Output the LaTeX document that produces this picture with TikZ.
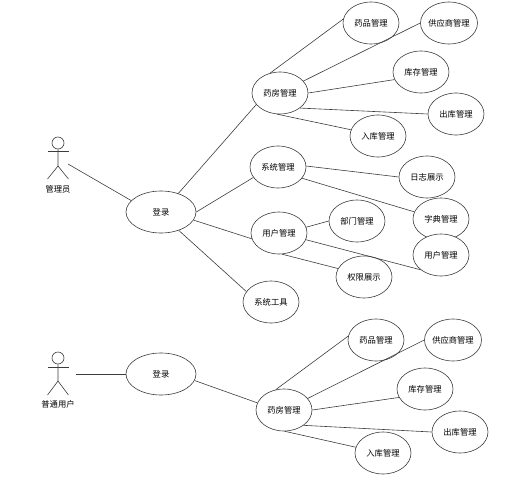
\documentclass[tikz,border=0pt]{standalone}
\usepackage{fontspec}
\setmainfont{Noto Sans CJK SC}
\usetikzlibrary{
	shapes.geometric
}
\definecolor{LineGray}{RGB}{60,60,60}
\tikzset{
	usecase/.style={ellipse, draw=LineGray, fill=white, line width=0.6pt, inner sep=0pt, minimum width=56pt, minimum height=42pt, font=\fontsize{8.3}{10}\selectfont},
	login/.style={usecase, minimum width=70pt},
	wide/.style={usecase, inner sep=-1pt, minimum width=57pt},
	link/.style={LineGray, line width=0.6pt},
	actorname/.style={inner sep=0pt, font=\fontsize{8.3}{10}\selectfont}
}

\begin{document}
\begin{tikzpicture}[x=1pt, y=-1pt]
		\useasboundingbox (0,0) rectangle (531,477);
		% 管理员
		\begin{scope}[shift={(58,143)}]
			\node[circle, draw=LineGray, line width=0.6pt, inner sep=0pt, minimum size=12pt] (adminhead) at (0,0) {};
			\draw[link] (adminhead.south) -- (0,23) -- (-10.5,36);
			\draw[link] (0,23) -- (10.5,36);
			\draw[link] (-10.5,8) -- (10.5,8);
			\node[actorname] (admin) at (0,46) {管理员};
			\coordinate (adminend) at (10,21);
		\end{scope}
		% 管理员用例
		\node[login] (login) at (161,212) {登录};
		\node[usecase] (yaofang) at (280,93) {药房管理};
		\node[usecase] (yaopin) at (371,23) {药品管理};
		\node[wide] (gongying) at (449,23) {供应商管理};
		\node[usecase] (kucun) at (421,72) {库存管理};
		\node[usecase] (chuku) at (456,114) {出库管理};
		\node[usecase] (ruku) at (378,136) {入库管理};
		\node[usecase] (xitong) at (278,167) {系统管理};
		\node[usecase] (rizhi) at (427,177) {日志展示};
		\node[usecase] (zidian) at (441,219) {字典管理};
		\node[usecase] (yonghuitem) at (441,255) {用户管理};
		\node[usecase] (bumen) at (357,221) {部门管理};
		\node[usecase] (yonghu) at (279,233) {用户管理};
		\node[usecase] (quanxian) at (364,277) {权限展示};
		\node[usecase] (gongju) at (271,302) {系统工具};
		\draw[link] (adminend) -- (login.159);
		\draw[link] (login.47) -- (yaofang.206);
		\draw[link] (login.0) -- (xitong.203);
		\draw[link] (login.-14) -- (yonghu.192);
		\draw[link] (login.-46) -- (gongju.157);
		\draw[link] (yaofang.116) -- (yaopin.172);
		\draw[link] (yaofang.27) -- (gongying.180);
		\draw[link] (yaofang.0) -- (kucun.196);
		\draw[link] (yaofang.-37) -- (chuku.180);
		\draw[link] (yaofang.262) -- (ruku.167);
		\draw[link] (xitong.2) -- (rizhi.180);
		\draw[link] (xitong.-25) -- (zidian.165);
		\draw[link] (yonghu.12) -- (bumen.180);
		\draw[link] (yonghu.-14) -- (yonghuitem.216);
		\draw[link] (yonghu.-82) -- (quanxian.162);
		% 普通用户
		\begin{scope}[shift={(58,358)}]
			\node[circle, draw=LineGray, line width=0.6pt, inner sep=0pt, minimum size=12pt] (userhead) at (0,0) {};
			\draw[link] (userhead.south) -- (0,23) -- (-10.5,37);
			\draw[link] (0,23) -- (10.5,37);
			\draw[link] (-10.5,9) -- (10.5,9);
			\node[actorname] (user) at (0,46) {普通用户};
			\coordinate (userend) at (18,16);
		\end{scope}
		% 普通用户用例
		\node[login] (loginb) at (161,374) {登录};
		\node[usecase] (yaofangb) at (284,410) {药房管理};
		\node[usecase] (yaopinb) at (376,340) {药品管理};
		\node[wide] (gongyingb) at (453,340) {供应商管理};
		\node[usecase] (kucunb) at (425,389) {库存管理};
		\node[usecase] (chukub) at (460,432) {出库管理};
		\node[usecase] (rukub) at (383,453) {入库管理};
		\draw[link] (userend) -- (loginb.180);
		\draw[link] (loginb.-11) -- (yaofangb.165);
		\draw[link] (yaofangb.112) -- (yaopinb.172);
		\draw[link] (yaofangb.26) -- (gongyingb.180);
		\draw[link] (yaofangb.0) -- (kucunb.198);
		\draw[link] (yaofangb.-38) -- (chukub.180);
		\draw[link] (yaofangb.-88) -- (rukub.168);
	\end{tikzpicture}
\end{document}
